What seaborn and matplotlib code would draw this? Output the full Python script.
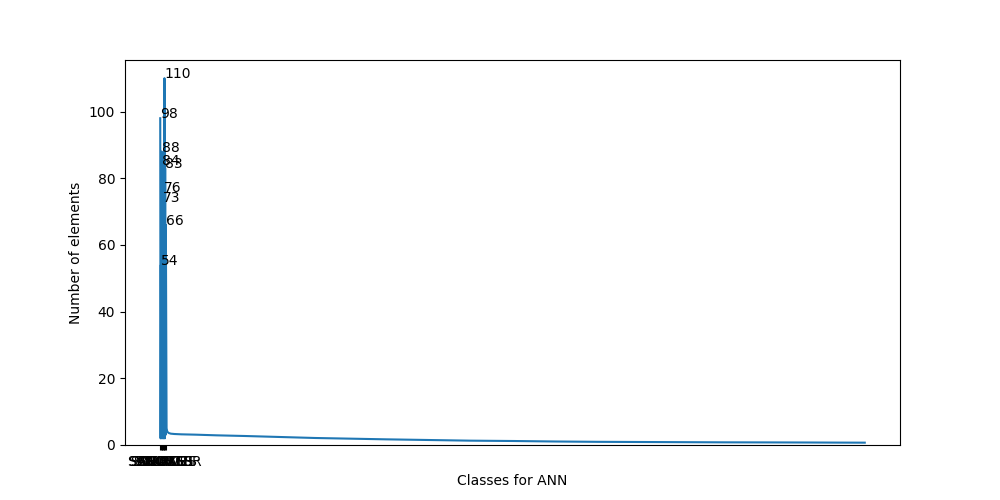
import numpy as np
import matplotlib
matplotlib.use("Agg")
import matplotlib.pyplot as plt
import seaborn as sns

# the biggest classes, in the order they come on the x axis
top_classes = ["SWEATER", "SANDALS", "SHIRTS", "SKIRT", "SOCKS", "SUITS", "SHORTS", "SCARVES", "STROLLER"]
top_counts = [98, 54, 88, 84, 73, 76, 110, 83, 66]

# small classes squeezed in between the big ones (x position, count)
gap_index = [0.5, 1.5, 2.5, 3.5, 4.5, 5.5, 6.5, 7.5]
gap_counts = [2, 3, 2, 3, 2, 3, 2, 3]

# long tail of small classes (index of the class, number of elements)
tail_index = [9, 10, 12, 15, 20, 30, 50, 80, 120, 170, 220, 270, 320, 380,
              440, 500, 560, 620, 680, 740, 800, 860, 920, 960, 999]
tail_counts = [5.0, 4.0, 3.6, 3.4, 3.3, 3.2, 3.1, 2.9, 2.7, 2.4, 2.1, 1.9, 1.7, 1.5,
               1.3, 1.2, 1.05, 0.95, 0.9, 0.85, 0.8, 0.78, 0.75, 0.72, 0.7]

x = list(range(len(top_counts))) + gap_index + tail_index
y = top_counts + gap_counts + tail_counts

fig, ax = plt.subplots(figsize=(10, 5), dpi=100)
sns.lineplot(x=x, y=y, ax=ax)

for i, v in enumerate(top_counts):
    ax.text(i, v, str(v))

ax.set_xticks(range(len(top_classes)))
ax.set_xticklabels(top_classes)
ax.set_ylim(bottom=0)
ax.set_xlabel("Classes for ANN")
ax.set_ylabel("Number of elements")

plt.savefig("out.png")
